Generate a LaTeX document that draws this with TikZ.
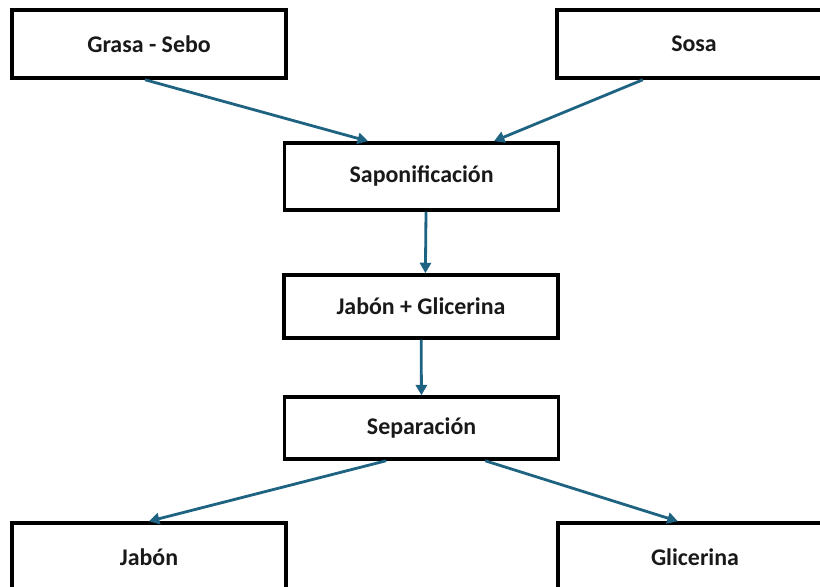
\documentclass[tikz,border=0pt]{standalone}
\usepackage{fontspec}
\setmainfont{Carlito}
\usepackage{tikz}
\usetikzlibrary{arrows.meta,positioning}
\definecolor{flecha}{RGB}{31,99,130}
\tikzset{
  caja/.style={ draw, line width=2.5pt, fill=white, minimum width=6.85cm, minimum height=1.7cm,
    font=\fontsize{17}{20}\selectfont\bfseries, text=black!90 }
}
\tikzset{
  flujo/.style={ draw=flecha, line width=2pt, -{Triangle[length=0.26cm,width=0.28cm]} }
}

\begin{document}
\begin{tikzpicture}[y=1cm, x=1cm]
      \useasboundingbox (0, 0) rectangle (20.5, -14.65);
      \node[caja] (grasa) at (3.725, -1.1) {Grasa - Sebo};
      \node[caja] (sosa) at (17.35, -1.1) {Sosa};
      \node[caja, minimum height=1.675cm] (sapon) at (10.54, -4.41) {Saponificación};
      \node[caja, minimum height=1.575cm] (mezcla) at (10.525, -7.66) {Jabón + Glicerina};
      \node[caja, minimum height=1.55cm] (separ) at (10.54, -10.7) {Separación};
      \node[caja] (jabon) at (3.725, -13.925) {Jabón};
      \node[caja] (glic) at (17.375, -13.925) {Glicerina};

      \draw[flujo] ([xshift=-0.1cm]grasa.south) -- ([xshift=-1.34cm]sapon.north);
      \draw[flujo] ([xshift=-1.28cm]sosa.south) -- ([xshift=1.81cm]sapon.north);
      \draw[flujo] ([xshift=0.11cm]sapon.south) -- ([xshift=0.11cm]mezcla.north);
      \draw[flujo] (mezcla) -- (separ);

      \draw[flujo] ([xshift=-0.89cm]separ.south) -- (jabon.north);
      \draw[flujo] ([xshift=1.59cm]separ.south) -- ([xshift=-0.43cm]glic.north);
    \end{tikzpicture}
\end{document}
